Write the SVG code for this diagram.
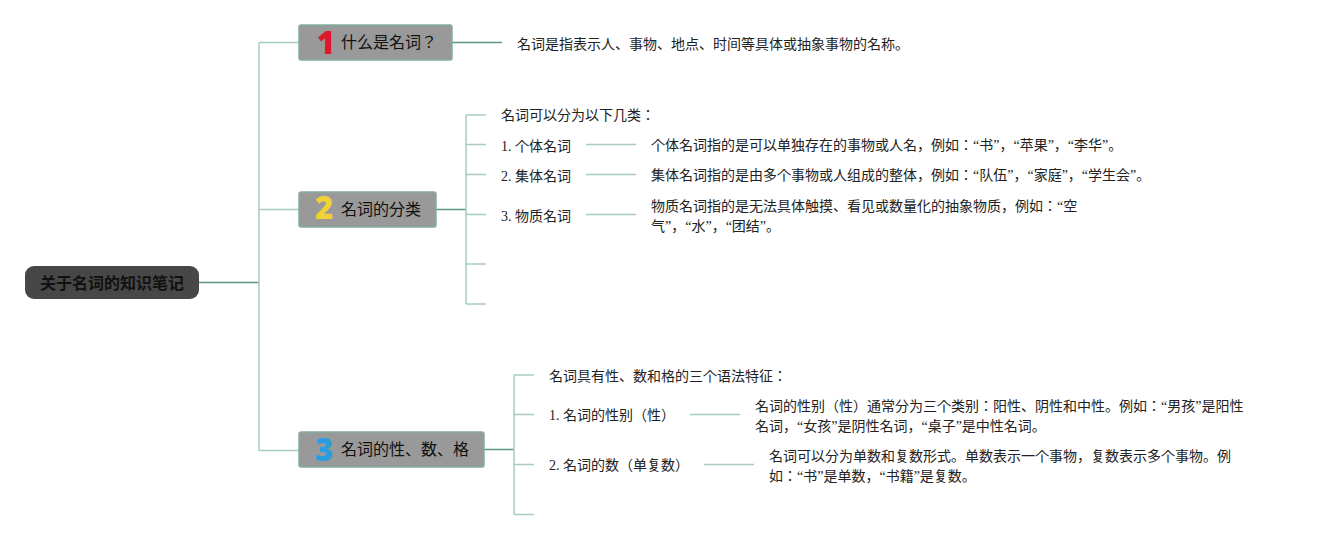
<svg xmlns="http://www.w3.org/2000/svg" width="1329" height="540" viewBox="0 0 1329 540">
<style>
.bg{fill:#ffffff}
.ln{fill:none;stroke:#a6cbc0;stroke-width:1.5}
.lnd{fill:none;stroke:#5f9686;stroke-width:1.5}
.box{fill:#999999;stroke:#7fae9f;stroke-width:1.5}
.root{fill:#474747}
.rt{font-family:"Noto Sans CJK SC",sans-serif;font-size:16px;font-weight:bold;fill:#111}
.nt{font-family:"Noto Sans CJK JP",sans-serif;font-size:16px;fill:#111}
.num{font-family:"Open Sans","Liberation Sans",sans-serif;font-size:31px;font-weight:800}
.t{font-family:"Liberation Serif","Noto Sans CJK JP",serif;font-size:14px;fill:#222}
</style>
<rect class="bg" x="0" y="0" width="1329" height="540"/>
<g id="connectors">
<path class="lnd" d="M199 282.5H259"/>
<path class="ln" d="M259 42.5V450.5"/>
<path class="ln" d="M259 42.5H299"/>
<path class="ln" d="M259 209.5H299"/>
<path class="ln" d="M259 450.5H299"/>
<path class="lnd" d="M452 42.5H502"/>
<path class="lnd" d="M436 209.5H466"/>
<path class="ln" d="M466 115V304"/>
<path class="ln" d="M466 115H486M466 144.5H486M466 174.5H486M466 214.5H486M466 264H486M466 304H486"/>
<path class="ln" d="M586 144.5H636M586 174.5H636M586 214.5H636"/>
<path class="lnd" d="M484 449.5H514"/>
<path class="ln" d="M514 375V514.5"/>
<path class="ln" d="M514 375H534M514 414.5H534M514 464.5H534M514 514.5H534"/>
<path class="ln" d="M690 414.5H740M704 464.5H754"/>
</g>
<g id="root">
<rect class="root" x="25" y="266" width="174" height="33" rx="9"/>
<text class="rt" x="112" y="288.5" text-anchor="middle">关于名词的知识笔记</text>
</g>
<g id="node1">
<rect class="box" x="299" y="25" width="153" height="35" rx="2"/>
<text class="num" x="317" y="54" fill="#e0162b">1</text>
<text class="nt" x="341" y="48">什么是名词？</text>
</g>
<g id="node2">
<rect class="box" x="299" y="192" width="137" height="35" rx="2"/>
<text class="num" x="315" y="219" fill="#f0d238">2</text>
<text class="nt" x="341" y="215">名词的分类</text>
</g>
<g id="node3">
<rect class="box" x="299" y="432" width="185" height="35" rx="2"/>
<text class="num" x="315" y="461" fill="#2a9de0">3</text>
<text class="nt" x="341" y="455">名词的性、数、格</text>
</g>
<g id="leaf1"><text class="t" x="517" y="49">名词是指表示人、事物、地点、时间等具体或抽象事物的名称。</text></g>
<g id="leaf2a"><text class="t" x="501" y="120">名词可以分为以下几类：</text></g>
<g id="leaf2b"><text class="t" x="501" y="151">1. 个体名词</text></g>
<g id="leaf2b1"><text class="t" x="651" y="150">个体名词指的是可以单独存在的事物或人名，例如：“书”，“苹果”，“李华”。</text></g>
<g id="leaf2c"><text class="t" x="501" y="181">2. 集体名词</text></g>
<g id="leaf2c1"><text class="t" x="651" y="180">集体名词指的是由多个事物或人组成的整体，例如：“队伍”，“家庭”，“学生会”。</text></g>
<g id="leaf2d"><text class="t" x="501" y="221">3. 物质名词</text></g>
<g id="leaf2d1"><text class="t" x="651" y="211">物质名词指的是无法具体触摸、看见或数量化的抽象物质，例如：“空</text><text class="t" x="651" y="231">气”，“水”，“团结”。</text></g>
<g id="leaf3a"><text class="t" x="549" y="381">名词具有性、数和格的三个语法特征：</text></g>
<g id="leaf3b"><text class="t" x="549" y="420">1. 名词的性别（性）</text></g>
<g id="leaf3b1"><text class="t" x="755" y="411">名词的性别（性）通常分为三个类别：阳性、阴性和中性。例如：“男孩”是阳性</text><text class="t" x="755" y="431">名词，“女孩”是阴性名词，“桌子”是中性名词。</text></g>
<g id="leaf3c"><text class="t" x="549" y="470">2. 名词的数（单复数）</text></g>
<g id="leaf3c1"><text class="t" x="769" y="461">名词可以分为单数和复数形式。单数表示一个事物，复数表示多个事物。例</text><text class="t" x="769" y="481">如：“书”是单数，“书籍”是复数。</text></g>
</svg>
